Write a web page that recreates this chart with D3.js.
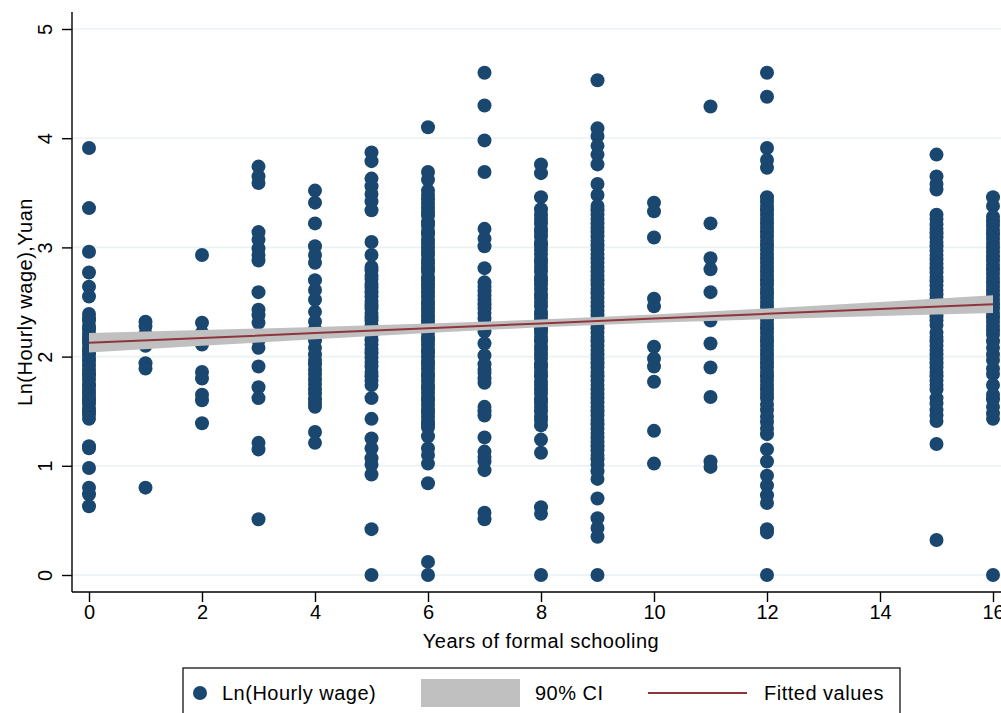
<!DOCTYPE html>
<html>
<head>
<meta charset="utf-8">
<script src="https://cdn.jsdelivr.net/npm/d3@7"></script>
<style>
  body { margin: 0; background: #fff; }
  text { font-family: "Liberation Sans", Arial, sans-serif; }
</style>
</head>
<body>
<div id="chart"></div>
<script>
// years of schooling that have observations
const schoolYears = [0, 1, 2, 3, 4, 5, 6, 7, 8, 9, 10, 11, 12, 15, 16];

const wage0 = [3.91, 3.36, 2.96, 2.77, 2.64, 2.55, 2.39, 2.35, 2.33, 2.28, 2.25, 2.21, 2.18, 2.15,
  2.12, 2.08, 2.05, 2.02, 1.98, 1.96, 1.92, 1.88, 1.85, 1.83, 1.79, 1.75, 1.73, 1.69, 1.66, 1.63,
  1.60, 1.57, 1.53, 1.50, 1.47, 1.43, 1.18, 1.16, 0.98, 0.80, 0.74, 0.63];
const wage1 = [2.32, 2.28, 2.21, 2.10, 1.94, 1.89, 0.80];
const wage2 = [2.93, 2.31, 2.22, 2.11, 1.86, 1.80, 1.65, 1.60, 1.39];
const wage3 = [3.74, 3.65, 3.59, 3.14, 3.07, 2.99, 2.93, 2.88, 2.59, 2.43, 2.38, 2.31, 2.15, 2.08,
  1.91, 1.72, 1.62, 1.21, 1.15, 0.51];
const wage4 = [3.52, 3.41, 3.22, 3.01, 2.93, 2.86, 2.70, 2.61, 2.52, 2.41, 2.32, 2.25, 2.15, 2.08,
  2.02, 1.97, 1.93, 1.88, 1.84, 1.79, 1.75, 1.70, 1.66, 1.61, 1.57, 1.54, 1.31, 1.21];
const wage5 = [3.87, 3.79, 3.63, 3.56, 3.49, 3.42, 3.34, 3.05, 2.93, 2.82, 2.79, 2.74, 2.71, 2.66,
  2.63, 2.59, 2.55, 2.51, 2.47, 2.44, 2.40, 2.36, 2.33, 2.29, 2.25, 2.20, 2.15, 2.11, 2.07, 2.03,
  1.99, 1.95, 1.91, 1.86, 1.82, 1.78, 1.74, 1.62, 1.43, 1.25, 1.16, 1.07, 1.01, 0.92, 0.42, 0.0];
const wage6 = [4.10, 3.69, 3.62, 3.52, 3.48, 3.44, 3.40, 3.36, 3.32, 3.29, 3.23, 3.20, 3.15, 3.12,
  3.07, 3.04, 3.00, 2.96, 2.93, 2.88, 2.85, 2.81, 2.78, 2.73, 2.70, 2.66, 2.63, 2.59, 2.55, 2.51,
  2.48, 2.44, 2.41, 2.37, 2.33, 2.30, 2.26, 2.22, 2.18, 2.15, 2.11, 2.07, 2.04, 2.00, 1.96, 1.93,
  1.89, 1.85, 1.82, 1.78, 1.74, 1.71, 1.67, 1.63, 1.60, 1.56, 1.52, 1.49, 1.45, 1.41, 1.38, 1.35,
  1.27, 1.16, 1.10, 1.02, 0.84, 0.12, 0.0];
const wage7 = [4.60, 4.30, 3.98, 3.69, 3.17, 3.08, 3.01, 2.81, 2.68, 2.64, 2.60, 2.56, 2.52, 2.48,
  2.44, 2.40, 2.35, 2.29, 2.23, 2.12, 2.01, 1.93, 1.88, 1.85, 1.80, 1.76, 1.54, 1.50, 1.46, 1.26,
  1.13, 1.08, 1.04, 0.96, 0.57, 0.51];
const wage8 = [3.76, 3.68, 3.46, 3.35, 3.30, 3.26, 3.22, 3.17, 3.14, 3.10, 3.05, 3.02, 2.98, 2.94,
  2.89, 2.86, 2.82, 2.78, 2.73, 2.70, 2.66, 2.62, 2.57, 2.54, 2.50, 2.46, 2.41, 2.38, 2.34, 2.30,
  2.25, 2.22, 2.18, 2.14, 2.09, 2.06, 2.02, 1.98, 1.93, 1.90, 1.86, 1.82, 1.77, 1.74, 1.70, 1.66,
  1.61, 1.58, 1.54, 1.50, 1.45, 1.42, 1.37, 1.24, 1.12, 0.62, 0.56, 0.0];
const wage9 = [4.53, 4.09, 4.02, 3.93, 3.85, 3.76, 3.58, 3.48, 3.38, 3.34, 3.30, 3.26, 3.22, 3.18,
  3.14, 3.10, 3.06, 3.02, 2.98, 2.94, 2.90, 2.86, 2.82, 2.78, 2.74, 2.70, 2.66, 2.62, 2.58, 2.54,
  2.50, 2.46, 2.42, 2.38, 2.34, 2.30, 2.26, 2.22, 2.18, 2.14, 2.10, 2.06, 2.02, 1.98, 1.94, 1.90,
  1.86, 1.82, 1.78, 1.74, 1.70, 1.66, 1.62, 1.58, 1.54, 1.50, 1.46, 1.42, 1.38, 1.34, 1.30, 1.26,
  1.22, 1.18, 1.14, 1.10, 1.06, 1.01, 0.95, 0.88, 0.70, 0.52, 0.43, 0.35, 0.0];
const wage10 = [3.41, 3.33, 3.09, 2.53, 2.46, 2.09, 1.98, 1.91, 1.77, 1.32, 1.02];
const wage11 = [4.29, 3.22, 2.90, 2.80, 2.59, 2.33, 2.12, 1.90, 1.63, 1.04, 0.99];
const wage12 = [4.60, 4.38, 3.91, 3.80, 3.73, 3.46, 3.42, 3.38, 3.34, 3.30, 3.26, 3.22, 3.18, 3.14,
  3.10, 3.06, 3.02, 2.98, 2.94, 2.90, 2.86, 2.82, 2.78, 2.74, 2.70, 2.66, 2.62, 2.58, 2.54, 2.50,
  2.46, 2.42, 2.38, 2.34, 2.30, 2.26, 2.22, 2.18, 2.14, 2.10, 2.06, 2.02, 1.98, 1.94, 1.90, 1.86,
  1.82, 1.78, 1.74, 1.70, 1.66, 1.62, 1.56, 1.51, 1.45, 1.40, 1.34, 1.29, 1.15, 1.04, 0.91, 0.82,
  0.73, 0.66, 0.42, 0.39, 0.0];
const wage15 = [3.85, 3.65, 3.58, 3.53, 3.30, 3.26, 3.21, 3.17, 3.13, 3.09, 3.05, 3.01, 2.97, 2.93,
  2.89, 2.85, 2.81, 2.77, 2.73, 2.69, 2.65, 2.61, 2.57, 2.53, 2.49, 2.45, 2.41, 2.37, 2.33, 2.29,
  2.22, 2.18, 2.14, 2.10, 2.06, 2.02, 1.98, 1.94, 1.90, 1.86, 1.82, 1.78, 1.74, 1.70, 1.62, 1.57,
  1.51, 1.46, 1.41, 1.20, 0.32];
const wage16 = [3.46, 3.38, 3.28, 3.24, 3.20, 3.16, 3.12, 3.08, 3.04, 3.00, 2.96, 2.92, 2.88, 2.84,
  2.80, 2.76, 2.72, 2.68, 2.64, 2.60, 2.56, 2.52, 2.48, 2.44, 2.40, 2.36, 2.32, 2.28, 2.24, 2.20,
  2.14, 2.08, 2.02, 1.97, 1.89, 1.84, 1.74, 1.65, 1.61, 1.54, 1.48, 1.43, 0.0];
const wageColumns = [wage0, wage1, wage2, wage3, wage4, wage5, wage6, wage7, wage8, wage9,
  wage10, wage11, wage12, wage15, wage16];

// fitted line and 90% confidence band
const fitX = [0, 2, 4, 6, 8, 10, 12, 14, 16];
const fitY = [2.127, 2.171, 2.215, 2.260, 2.304, 2.348, 2.392, 2.436, 2.480];
const ciLow = [2.037, 2.099, 2.159, 2.217, 2.269, 2.310, 2.343, 2.372, 2.399];
const ciHigh = [2.217, 2.243, 2.271, 2.303, 2.339, 2.386, 2.441, 2.500, 2.561];

const xTicks = [0, 2, 4, 6, 8, 10, 12, 14, 16];
const yTicks = [0, 1, 2, 3, 4, 5];
const legendLabels = ["Ln(Hourly wage)", "90% CI", "Fitted values"];

const navy = "#1a476f";
const maroon = "#90353b";
const ciGray = "#c0c0c0";
const gridColor = "#eaf2f3";

const width = 1001, height = 713;
const plot = { left: 72, right: 1010, top: 12, bottom: 592 };

const svg = d3.select("#chart").append("svg")
  .attr("width", width)
  .attr("height", height);

const x = d3.scaleLinear().domain([0, 16]).range([89, 993]);
const y = d3.scaleLinear().domain([0, 5]).range([575, 29]);

// gridlines
svg.append("g").selectAll("line")
  .data(yTicks).enter().append("line")
  .attr("x1", plot.left).attr("x2", plot.right)
  .attr("y1", d => y(d)).attr("y2", d => y(d))
  .attr("stroke", gridColor).attr("stroke-width", 1.6);

// scatter points
const points = [];
schoolYears.forEach((yr, i) => {
  wageColumns[i].forEach(w => points.push({ yr: yr, w: w }));
});
svg.append("g").selectAll("circle")
  .data(points).enter().append("circle")
  .attr("cx", d => x(d.yr))
  .attr("cy", d => y(d.w))
  .attr("r", 7)
  .attr("fill", navy);

// confidence band
const band = fitX.map((v, i) => ({ x: v, lo: ciLow[i], hi: ciHigh[i], fit: fitY[i] }));
svg.append("path")
  .datum(band)
  .attr("fill", ciGray)
  .attr("d", d3.area().x(d => x(d.x)).y0(d => y(d.lo)).y1(d => y(d.hi)));

// fitted line
svg.append("path")
  .datum(band)
  .attr("fill", "none")
  .attr("stroke", maroon)
  .attr("stroke-width", 2)
  .attr("d", d3.line().x(d => x(d.x)).y(d => y(d.fit)));

// y axis
const yAxis = svg.append("g")
  .attr("transform", "translate(" + plot.left + ",0)")
  .call(d3.axisLeft(y).tickValues(yTicks).tickSize(10).tickFormat(d3.format("d")));
yAxis.select(".domain").remove();
yAxis.selectAll("line").attr("stroke", "#000").attr("stroke-width", 1.4);
yAxis.selectAll("text")
  .attr("transform", "rotate(-90)")
  .attr("x", 0).attr("y", -20).attr("dy", null)
  .attr("text-anchor", "middle")
  .style("font-size", "20px").style("fill", "#000");
svg.append("line")
  .attr("x1", plot.left).attr("x2", plot.left)
  .attr("y1", plot.top).attr("y2", plot.bottom)
  .attr("stroke", "#000").attr("stroke-width", 1.4);

// x axis
const xAxis = svg.append("g")
  .attr("transform", "translate(0," + plot.bottom + ")")
  .call(d3.axisBottom(x).tickValues(xTicks).tickSize(10).tickFormat(d3.format("d")));
xAxis.select(".domain").remove();
xAxis.selectAll("line").attr("stroke", "#000").attr("stroke-width", 1.4);
xAxis.selectAll("text")
  .attr("y", 27).attr("dy", null)
  .style("font-size", "20px").style("fill", "#000");
svg.append("line")
  .attr("x1", plot.left).attr("x2", plot.right)
  .attr("y1", plot.bottom).attr("y2", plot.bottom)
  .attr("stroke", "#000").attr("stroke-width", 1.4);

// axis titles
svg.append("text")
  .attr("transform", "translate(32," + (plot.top + plot.bottom) / 2 + ") rotate(-90)")
  .attr("text-anchor", "middle")
  .style("font-size", "20px").style("letter-spacing", "0.5px")
  .text("Ln(Hourly wage),Yuan");
svg.append("text")
  .attr("x", (plot.left + plot.right) / 2).attr("y", 648)
  .attr("text-anchor", "middle")
  .style("font-size", "20px").style("letter-spacing", "0.5px")
  .text("Years of formal schooling");

// legend
const lg = svg.append("g");
lg.append("rect")
  .attr("x", 183).attr("y", 668).attr("width", 717).attr("height", 60)
  .attr("fill", "#fff").attr("stroke", "#000").attr("stroke-width", 1.2);
lg.append("circle").attr("cx", 200).attr("cy", 693).attr("r", 7).attr("fill", navy);
lg.append("rect").attr("x", 421).attr("y", 679).attr("width", 99).attr("height", 28).attr("fill", ciGray);
lg.append("line").attr("x1", 648).attr("x2", 747).attr("y1", 693).attr("y2", 693)
  .attr("stroke", maroon).attr("stroke-width", 2);
lg.selectAll(".lg-text")
  .data(legendLabels).enter().append("text")
  .attr("class", "lg-text")
  .attr("x", (d, i) => [222, 535, 764][i])
  .attr("y", 700)
  .style("font-size", "20px").style("letter-spacing", "0.5px")
  .text(d => d);
</script>
</body>
</html>
